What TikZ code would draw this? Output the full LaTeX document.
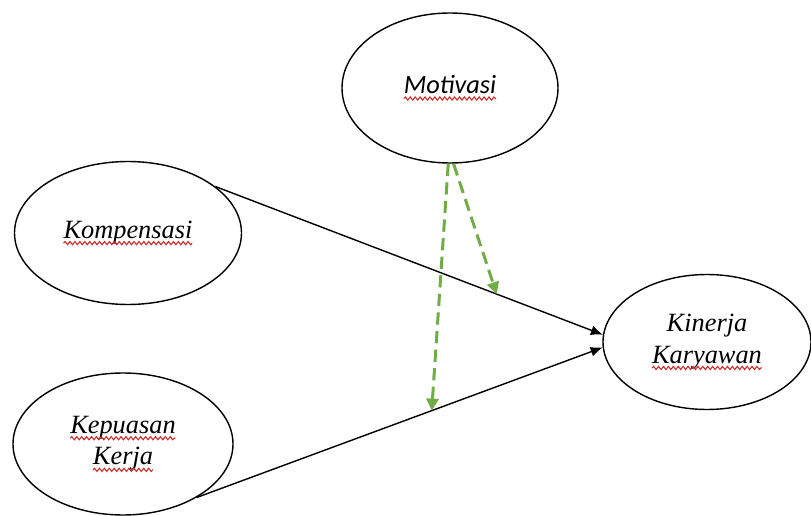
\documentclass[tikz,border=0pt]{standalone}
\usepackage{fontspec}
\setmainfont{Liberation Serif}
\newfontfamily\calibri{Carlito}
\usepackage{xcolor}
\usetikzlibrary{arrows.meta, positioning, shapes.geometric, decorations.pathmorphing}
\definecolor{hijau}{RGB}{112,173,71}
\definecolor{merah}{RGB}{205,40,40}
% kata dengan garis bawah bergelombang
\newcommand{\salah}[1]{\tikz[baseline=(s.base)]{%
  \node[shape=rectangle, inner sep=0pt, outer sep=0pt, minimum size=0pt] (s) {#1};
  \draw[merah, line width=0.6pt, decorate,
        decoration={snake, segment length=2.8pt, amplitude=0.9pt}]
    ([yshift=-2.8pt]s.base west) -- ([yshift=-2.8pt]s.base east);}}

\begin{document}
\begin{tikzpicture}[
    font=\fontsize{15}{18}\selectfont\itshape,
    variabel/.style={draw, ellipse, line width=0.8pt, inner sep=0pt, align=center},
    panah/.style={-{Latex[length=2.4mm, width=2mm]}, line width=0.8pt},
    moderasi/.style={-{Triangle[length=2.4mm, width=2.4mm]}, draw=hijau,
                     line width=1.7pt, dash pattern=on 7pt off 3.6pt}
  ]
    \useasboundingbox (0,0) rectangle (16.22,10.3);
    \node[variabel, minimum width=4.32cm, minimum height=3cm] (mot) at (9.0,8.54)
      {\calibri\salah{Motivasi}};
    \node[variabel, minimum width=4.54cm, minimum height=2.86cm] (komp) at (2.56,5.64)
      {\salah{Kompensasi}};
    \node[variabel, minimum width=4.4cm, minimum height=2.84cm] (kep) at (2.46,1.42)
      {\salah{Kepuasan}\\\salah{Kerja}};
    \node[variabel, minimum width=4.16cm, minimum height=2.7cm] (kin) at (14.14,3.46)
      {Kinerja\\\salah{Karyawan}};
    % pengaruh langsung
    \draw[panah] (komp.28) -- coordinate[pos=0.726] (titik1) (kin.176);
    \draw[panah] (kep.-36) -- coordinate[pos=0.579] (titik2) (kin.183);
    % moderasi
    \draw[moderasi] ([xshift=2pt]mot.south) -- (titik1);
    \draw[moderasi] ([xshift=-1pt]mot.south) -- (titik2);
  \end{tikzpicture}
\end{document}
